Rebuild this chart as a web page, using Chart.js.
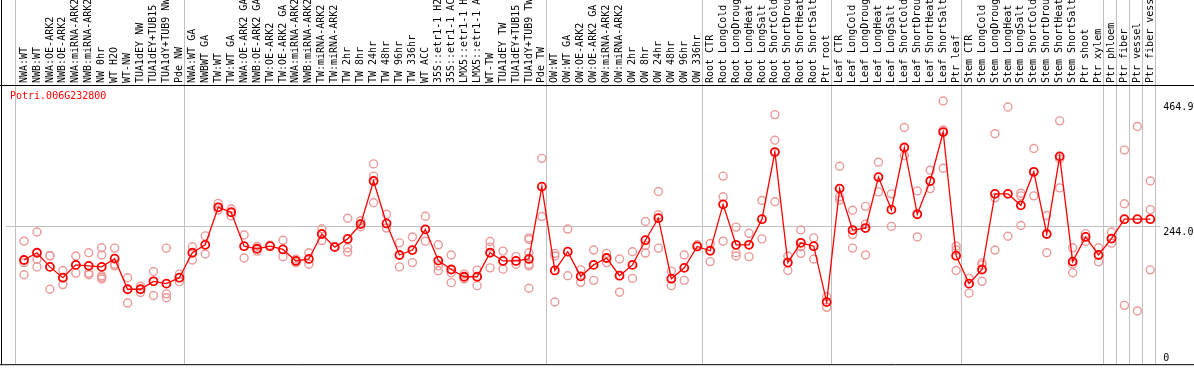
<!DOCTYPE html>
<html>
<head>
<meta charset="utf-8">
<script src="https://cdn.jsdelivr.net/npm/chart.js"></script>
<style>
  html, body { margin: 0; padding: 0; background: #fff; }
</style>
</head>
<body>
<canvas id="myChart" width="1194" height="370"></canvas>
<script>
// Sample names (columns), one per point
const categories = [
    'NWA:WT', 'NWB:WT', 'NWA:OE-ARK2', 'NWB:OE-ARK2', 'NWA:miRNA-ARK2', 'NWB:miRNA-ARK2', 'NW 0hr',
    'WT H2O', 'WT-NW', 'TUA1dEY NW', 'TUA1dEY+TUB15 NW', 'TUA1dY+TUB9 NW', 'Pde NW',
    'NWA:WT GA', 'NWBWT GA', 'TW:WT', 'TW:WT GA', 'NWA:OE-ARK2 GA', 'NWB:OE-ARK2 GA', 'TW:OE-ARK2',
    'TW:OE-ARK2 GA', 'NWA:miRNA-ARK2', 'NWB:miRNA-ARK2', 'TW:miRNA-ARK2', 'TW:miRNA-ARK2 GA',
    'TW 2hr', 'TW 8hr', 'TW 24hr', 'TW 48hr', 'TW 96hr', 'TW 336hr', 'WT ACC',
    '35S::etr1-1 H2O', '35S::etr1-1 ACC', 'LMX5::etr1-1 H2O', 'LMX5::etr1-1 ACC',
    'WT-TW', 'TUA1dEY TW', 'TUA1dEY+TUB15 TW', 'TUA1dY+TUB9 TW', 'Pde TW',
    'OW:WT', 'OW:WT GA', 'OW:OE-ARK2', 'OW:OE-ARK2 GA', 'OW:miRNA-ARK2', 'OW:miRNA-ARK2 GA',
    'OW 2hr', 'OW 8hr', 'OW 24hr', 'OW 48hr', 'OW 96hr', 'OW 336hr',
    'Root CTR', 'Root LongCold', 'Root LongDrought', 'Root LongHeat', 'Root LongSalt',
    'Root ShortCold', 'Root ShortDrought', 'Root ShortHeat', 'Root ShortSalt', 'Ptr root',
    'Leaf CTR', 'Leaf LongCold', 'Leaf LongDrought', 'Leaf LongHeat', 'Leaf LongSalt',
    'Leaf ShortCold', 'Leaf ShortDrought', 'Leaf ShortHeat', 'Leaf ShortSalt', 'Ptr leaf',
    'Stem CTR', 'Stem LongCold', 'Stem LongDrought', 'Stem LongHeat', 'Stem LongSalt',
    'Stem ShortCold', 'Stem ShortDrought', 'Stem ShortHeat', 'Stem ShortSalt', 'Ptr shoot', 'Ptr xylem',
    'Ptr phloem', 'Ptr fiber', 'Ptr vessel', 'Ptr fiber vessel'
];

// Mean expression per sample
const meanValues = [
    184.1, 196.9, 171.9, 152.8, 175.4, 173.7, 171.9, 186.5, 132.4, 132.4, 146.4, 142.3, 152.8,
    196.9, 210.9, 277.1, 268.4, 208.5, 203.9, 208.5, 202.7, 182.4, 185.9, 230.0, 206.8,
    221.3, 247.5, 323.6, 248.6, 192.9, 201.6, 238.2, 183.0, 167.3, 154.5, 154.5,
    196.9, 182.4, 182.4, 185.9, 313.7,
    165.6, 198.7, 155.1, 175.4, 187.6, 156.3, 175.4, 219.0, 257.9, 151.0, 170.2, 208.0,
    200.4, 282.3, 210.9, 210.9, 256.2, 374.7, 179.5, 214.4, 208.5, 109.8,
    310.2, 237.0, 240.5, 330.5, 273.0, 382.8, 264.9, 323.6, 410.1, 191.7,
    142.3, 167.3, 300.9, 300.9, 280.6, 339.8, 230.0, 367.1, 181.2, 224.8, 192.9,
    221.9, 256.2, 256.2, 256.2
];

// Single replicates per sample
const replicateValues = [
    [217.3, 179.5, 158.0], [233.5, 185.3, 171.9], [191.1, 132.4, 192.2], [165.6, 140.6],
    [191.1, 160.9], [196.9, 160.9, 158.0], [205.6, 192.9, 156.3, 153.4, 150.5], [205.1, 176.6, 173.7],
    [152.8, 108.0], [137.7, 126.6], [163.8, 121.4], [205.1, 124.3, 117.3], [159.2, 145.8],
    [207.4, 184.1], [226.6, 194.6], [284.1, 272.4], [274.2, 262.0], [228.3, 187.6],
    [208.0, 199.8], [210.3], [219.0, 190.0], [185.3, 179.5], [196.9, 176.6], [239.3, 218.4],
    [208.0], [257.9, 205.6, 198.1], [253.3, 242.8], [353.8, 332.3, 285.2], [264.9, 240.5],
    [214.4, 171.9], [224.8, 179.5], [261.4, 217.3], [210.9, 173.7, 165.0], [192.9, 161.5, 144.1],
    [159.2, 150.5], [166.1, 138.8], [216.7, 206.8, 170.2], [199.8, 167.9], [190.0, 176.6],
    [223.1, 220.2, 196.9, 176.6, 173.7, 134.2], [363.6, 260.8],
    [195.8, 191.1, 109.8], [238.7, 156.3], [166.7, 144.6], [201.6, 148.1], [195.8, 179.5],
    [185.9, 127.2], [198.7, 151.6], [252.1, 209.7, 196.3], [305.0, 263.7, 205.1],
    [164.4, 138.8], [192.9, 148.1], [210.9],
    [213.2, 181.2], [332.3, 295.7, 217.3], [242.2, 196.9, 191.1], [231.2, 190.0], [289.3, 221.3],
    [440.9, 395.6, 287.0], [191.1, 165.6], [237.0, 207.4, 195.8], [223.1, 185.9], [119.1, 100.5],
    [349.7, 295.7, 289.9], [271.9, 228.9, 205.1], [278.8, 247.5, 192.9], [356.7, 304.4],
    [300.9, 243.4], [418.2, 368.3], [306.1, 224.8], [342.7, 310.2], [464.9, 413.6, 346.2],
    [208.5, 201.6, 165.6],
    [151.6, 125.5], [178.9, 175.4, 146.4], [407.2, 293.9, 201.6], [454.3, 226.0],
    [302.1, 297.4, 245.1], [381.1, 297.4], [262.6, 196.9], [429.9, 362.5, 311.4],
    [205.6, 176.6, 161.5], [230.6, 216.7], [205.6, 180.7],
    [233.5, 213.8], [378.2, 283.5, 104.0], [420.0, 94.1], [323.6, 273.0, 166.7]
];

// First column index of each tissue group (last entry = end)
const groupStarts = [0, 13, 41, 53, 63, 73, 84, 85, 86, 87, 88];
const yTickValues = [0, 244.0, 464.9];
const geneName = 'Potri.006G232800';

const monoFont = 'DejaVu Sans Mono';

// Frame, group separators, gene name and right-side value labels
const framePlugin = {
    id: 'frame',
    beforeDatasetsDraw(chart) {
        const { ctx, chartArea, scales } = chart;
        const W = chart.width;
        ctx.save();
        ctx.lineWidth = 1;
        ctx.strokeStyle = '#c0c0c0';
        groupStarts.forEach(function (g) {
            const px = Math.round(scales.x.getPixelForValue(g - 0.66)) + 0.5;
            ctx.beginPath();
            ctx.moveTo(px, 0);
            ctx.lineTo(px, chartArea.bottom);
            ctx.stroke();
        });
        const py = Math.round(scales.y.getPixelForValue(yTickValues[1])) + 0.5;
        ctx.beginPath();
        ctx.moveTo(chartArea.left, py);
        ctx.lineTo(chartArea.right + 5, py);
        ctx.stroke();

        ctx.strokeStyle = '#000';
        ctx.beginPath();
        ctx.moveTo(1.5, 0);
        ctx.lineTo(1.5, chartArea.bottom + 1);
        ctx.moveTo(0, chartArea.top + 0.5);
        ctx.lineTo(W, chartArea.top + 0.5);
        ctx.moveTo(0, chartArea.bottom + 0.5);
        ctx.lineTo(W, chartArea.bottom + 0.5);
        ctx.stroke();
        ctx.restore();
    },
    afterDatasetsDraw(chart) {
        const { ctx, chartArea, scales } = chart;
        ctx.save();
        ctx.font = '10px "' + monoFont + '"';
        ctx.textAlign = 'left';
        ctx.fillStyle = '#ff0000';
        ctx.textBaseline = 'top';
        ctx.fillText(geneName, 10, chartArea.top + 6);

        ctx.fillStyle = '#000';
        yTickValues.forEach(function (v) {
            const py = scales.y.getPixelForValue(v);
            const txt = v === 0 ? '0' : v.toFixed(1);
            ctx.textBaseline = v === 0 ? 'bottom' : 'top';
            ctx.fillText(txt, chartArea.right + 8, v === 0 ? py - 1 : py + 1);
        });
        ctx.restore();
    }
};

const replicatePoints = [];
replicateValues.forEach(function (reps, i) {
    reps.forEach(function (v) {
        replicatePoints.push({ x: i, y: v });
    });
});
const meanPoints = meanValues.map(function (v, i) { return { x: i, y: v }; });

const ctx = document.getElementById('myChart').getContext('2d');
const chart = new Chart(ctx, {
    type: 'scatter',
    data: {
        datasets: [{
            label: 'Mean',
            data: meanPoints,
            showLine: true,
            borderColor: '#ff0000',
            borderWidth: 1.3,
            pointRadius: 4,
            pointBorderWidth: 1.8,
            pointBorderColor: '#ff0000',
            pointBackgroundColor: 'rgba(0,0,0,0)',
            order: 0
        }, {
            label: 'Replicates',
            data: replicatePoints,
            showLine: false,
            pointRadius: 4,
            pointBorderWidth: 1.4,
            pointBorderColor: '#eb9a9a',
            pointBackgroundColor: 'rgba(0,0,0,0)',
            order: 1
        }]
    },
    options: {
        responsive: false,
        animation: false,
        devicePixelRatio: 1,
        layout: { padding: { left: 1, right: 38.7, top: 0, bottom: 2 } },
        plugins: {
            legend: { display: false },
            tooltip: { enabled: false }
        },
        scales: {
            x: {
                type: 'linear',
                position: 'top',
                min: -1.408,
                max: 87.385,
                afterBuildTicks: function (scale) {
                    scale.ticks = categories.map(function (c, i) { return { value: i }; });
                },
                afterFit: function (scale) {
                    scale.height = 85;
                    scale.paddingLeft = 0;
                    scale.paddingRight = 0;
                },
                ticks: {
                    autoSkip: false,
                    minRotation: 90,
                    maxRotation: 90,
                    padding: 2,
                    labelOffset: 12,
                    color: '#000',
                    font: { family: monoFont, size: 10 },
                    callback: function (value) { return categories[value]; }
                },
                grid: { display: false, drawTicks: false },
                border: { display: false }
            },
            y: {
                type: 'linear',
                display: false,
                min: 0,
                max: 493.2
            }
        }
    },
    plugins: [framePlugin]
});
</script>
</body>
</html>
